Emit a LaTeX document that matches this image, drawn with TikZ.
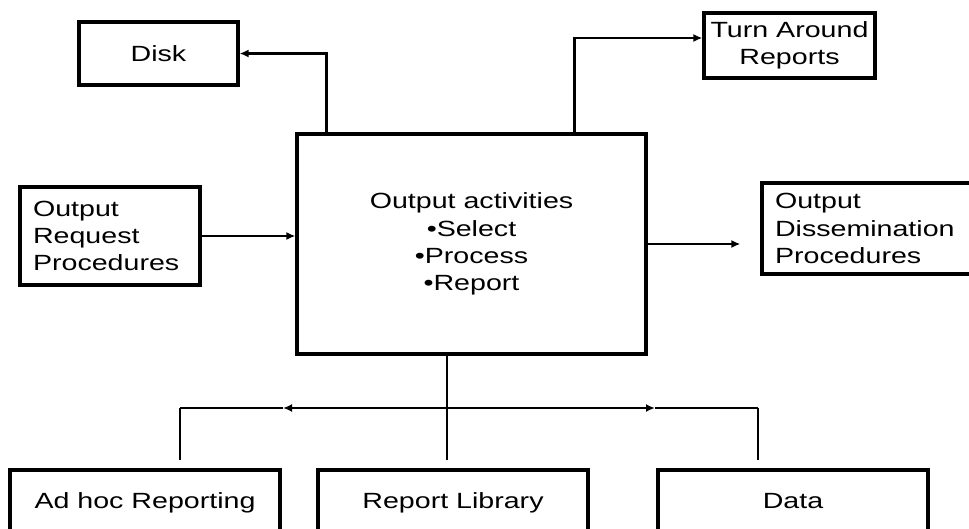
\documentclass[tikz,border=0pt]{standalone}
\usepackage{fontspec}
\setmainfont{Liberation Sans}[FakeStretch=1.3]
\usetikzlibrary{arrows.meta,calc,positioning}

\begin{document}
\begin{tikzpicture}[x=0.5pt, y=-0.5pt,
    box/.style={draw, line width=1.6pt, rectangle, inner sep=0pt,
      font=\fontsize{11pt}{13.6pt}\selectfont},
    leftbox/.style={box, align=left, inner xsep=6.5pt, text width=#1},
    lowbox/.style={box, minimum width=135pt, minimum height=33pt,
      text height=0.75em, text depth=0.22em},
    link/.style={line width=1.4pt},
    tip/.style={link, -{Latex[length=4.5pt, width=4pt]}}]
    \useasboundingbox (0,0) rectangle (969,529);

    \node[box, minimum width=79.5pt, minimum height=31.5pt] (disk) at (158.5,53.5) {Disk};
    \node[box, minimum width=85.5pt, minimum height=32.5pt, align=center] (turn) at (789.5,45.5) {Turn Around\\Reports};
    \node[box, minimum width=174.5pt, minimum height=110pt, align=center] (main) at (471.5,244)
      {Output activities\\\textbullet Select\\\textbullet Process\\\textbullet Report};
    \node[leftbox=77pt, minimum width=90pt, minimum height=49pt] (request) at (110,236)
      {Output\\Request\\Procedures};
    \node[leftbox=101pt, minimum width=114pt, minimum height=45.5pt] (dissem) at (876,228.5)
      {Output\\Dissemination\\Procedures};
    \node[lowbox] (adhoc) at (145,503) {Ad hoc Reporting};
    \node[lowbox] (library) at (453,503) {Report Library};
    \node[lowbox] (data) at (793,503) {Data};

    \coordinate (hub) at (447,408);
    \coordinate (leftend) at (180,408);
    \coordinate (rightend) at (758,408);
    \coordinate (lefttip) at (283,408);
    \coordinate (righttip) at (655,408);

    \draw[tip] ($(main.north west)+(31,0)$) |- (disk.east);
    \draw[tip] ($(main.north west)+(279,0)$) |- ([yshift=3.75pt]turn.west);
    \draw[tip] (request.east) -- (request.east -| main.west);
    \draw[tip, shorten >=10pt] (main.east) -- (main.east -| dissem.west);

    \draw[link, shorten >=4pt] (hub |- main.south) -- (hub |- library.north);
    \draw[tip] (hub) -- (lefttip);
    \draw[link] (lefttip) -- (leftend);
    \draw[tip] (hub) -- (righttip);
    \draw[link] (righttip) -- (rightend);
    \draw[link, shorten >=4pt] (leftend) -- (leftend |- adhoc.north);
    \draw[link, shorten >=4pt] (rightend) -- (rightend |- data.north);
\end{tikzpicture}
\end{document}
